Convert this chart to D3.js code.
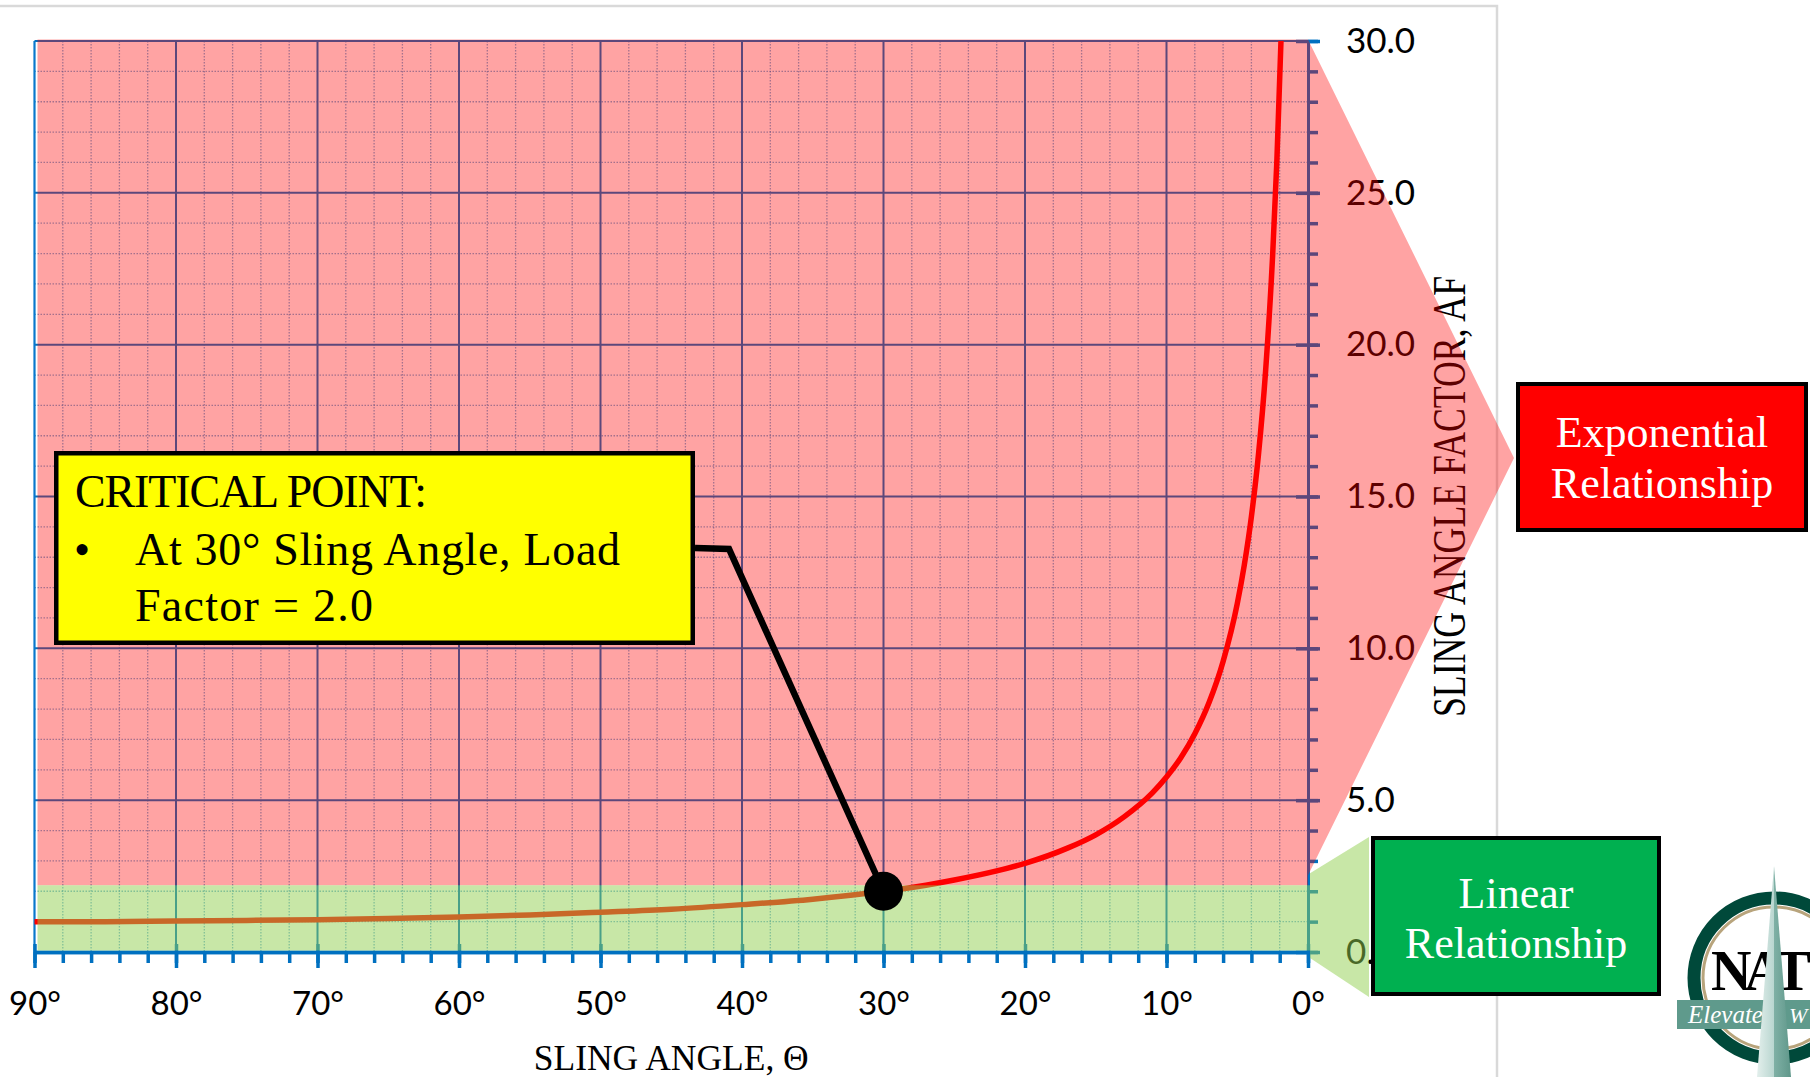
<!DOCTYPE html>
<html>
<head>
<meta charset="utf-8">
<script src="https://cdn.jsdelivr.net/npm/d3@7"></script>
<style>
  html, body { margin: 0; padding: 0; background: #fff; }
  svg { display: block; }
</style>
</head>
<body>
<svg id="chart" width="1810" height="1077"></svg>
<script>
// Sling angle θ (degrees) and the sling angle factor AF
const slingAngles  = [90, 85, 80, 75, 70, 65, 60, 55, 50, 45, 40, 35, 30, 27, 25, 22, 20, 17, 15, 13, 11, 10, 9, 8, 7, 6, 5, 4.5, 4, 3.5, 3, 2.5, 2.2, 1.91];
const angleFactors = [1.00, 1.00, 1.02, 1.04, 1.06, 1.10, 1.15, 1.22, 1.31, 1.41, 1.56, 1.74, 2.00, 2.20, 2.37, 2.67, 2.92, 3.42, 3.86, 4.45, 5.24, 5.76, 6.39, 7.19, 8.21, 9.57, 11.47, 12.75, 14.34, 16.38, 19.11, 22.93, 26.05, 30.0];

// Axis ticks
const xTickValues = [90, 80, 70, 60, 50, 40, 30, 20, 10, 0];
const yTickValues = [0, 5, 10, 15, 20, 25, 30];

// Highlighted point and the upper limit of the linear zone
const criticalAngle = 30;
const criticalFactor = 2.0;
const linearLimit = 2.2;

// Callout texts
const criticalLines = ["CRITICAL POINT:", "At 30° Sling Angle, Load", "Factor = 2.0"];
const expLines = ["Exponential", "Relationship"];
const linLines = ["Linear", "Relationship"];

const W = 1810, H = 1077;
const BLUE = "#0070c0";
const SANS = "Lato, 'Open Sans', sans-serif";
const SERIF = "'Liberation Serif', 'DejaVu Serif', serif";

const svg = d3.select("#chart");
svg.append("rect").attr("width", W).attr("height", H).attr("fill", "#fff");

// slide frame
svg.append("path").attr("d", "M0,6 H1497 V1077")
  .attr("fill", "none").attr("stroke", "#d9d9d9").attr("stroke-width", 2.5);

const x = d3.scaleLinear().domain([90, 0]).range([34.5, 1308]);
const y = d3.scaleLinear().domain([0, 30]).range([952, 41]);

const minorX = d3.range(0, 91, 2);
const minorY = d3.range(0, 31, 1);

// ---------- gridlines ----------
const grid = svg.append("g");
grid.selectAll("line.vmin").data(minorX.filter(d => d % 10 !== 0)).join("line")
  .attr("x1", d => x(d)).attr("x2", d => x(d)).attr("y1", y(30)).attr("y2", y(0))
  .attr("stroke", BLUE).attr("stroke-width", 1.3).attr("stroke-dasharray", "1.5,1.5").attr("opacity", 0.55);
grid.selectAll("line.hmin").data(minorY.filter(d => d % 5 !== 0)).join("line")
  .attr("x1", x(90)).attr("x2", x(0)).attr("y1", d => y(d)).attr("y2", d => y(d))
  .attr("stroke", BLUE).attr("stroke-width", 1.3).attr("stroke-dasharray", "1.5,1.5").attr("opacity", 0.55);
grid.selectAll("line.vmaj").data(xTickValues.filter(d => d > 0 && d < 90)).join("line")
  .attr("x1", d => x(d)).attr("x2", d => x(d)).attr("y1", y(30)).attr("y2", y(0))
  .attr("stroke", BLUE).attr("stroke-width", 2);
grid.selectAll("line.hmaj").data(yTickValues.filter(d => d > 0)).join("line")
  .attr("x1", x(90)).attr("x2", x(0)).attr("y1", d => y(d)).attr("y2", d => y(d))
  .attr("stroke", BLUE).attr("stroke-width", 2);

// ---------- axes ----------
// left edge
svg.append("line").attr("x1", x(90)).attr("x2", x(90)).attr("y1", y(30)).attr("y2", y(0))
  .attr("stroke", "#0a78cc").attr("stroke-width", 2.2);

// bottom axis: minor ticks then labelled major ticks
const gxMinor = svg.append("g").attr("transform", `translate(0,${y(0)})`)
  .call(d3.axisBottom(x).tickValues(minorX).tickSize(11).tickSizeOuter(0).tickFormat(""));
const gx = svg.append("g").attr("transform", `translate(0,${y(0)})`)
  .call(d3.axisBottom(x).tickValues(xTickValues).tickSize(16).tickSizeOuter(0).tickPadding(24)
    .tickFormat(d => d + "°"));
gx.selectAll(".tick line").attr("y1", -8);
[gxMinor, gx].forEach(g => {
  g.select(".domain").attr("stroke", BLUE).attr("stroke-width", 3.5);
  g.selectAll(".tick line").attr("stroke", BLUE).attr("stroke-width", 3.5);
});
gx.selectAll(".tick text").attr("fill", "#000").attr("font-family", SANS).attr("font-size", 33);

// right axis: minor ticks then labelled major ticks
const gyMinor = svg.append("g").attr("transform", `translate(${x(0)},0)`)
  .call(d3.axisRight(y).tickValues(minorY).tickSize(10).tickSizeOuter(0).tickFormat(""));
const gy = svg.append("g").attr("transform", `translate(${x(0)},0)`)
  .call(d3.axisRight(y).tickValues(yTickValues).tickSize(12).tickSizeOuter(0).tickPadding(26)
    .tickFormat(d3.format(".1f")));
gy.selectAll(".tick line").attr("x1", -12);
[gyMinor, gy].forEach(g => {
  g.select(".domain").attr("stroke", BLUE).attr("stroke-width", 3);
  g.selectAll(".tick line").attr("stroke", BLUE).attr("stroke-width", 3.5);
});
gy.selectAll(".tick text").attr("fill", "#000").attr("font-family", SANS).attr("font-size", 35);

// axis titles
svg.append("text").attr("x", (x(90) + x(0)) / 2).attr("y", 1070)
  .attr("text-anchor", "middle").attr("font-family", SERIF).attr("font-size", 36)
  .attr("textLength", 275).attr("lengthAdjust", "spacingAndGlyphs")
  .text("SLING ANGLE, Θ");
svg.append("text").attr("transform", `translate(1465,${(y(0) + y(30)) / 2}) rotate(-90)`)
  .attr("text-anchor", "middle").attr("font-family", SERIF).attr("font-size", 46)
  .attr("textLength", 441).attr("lengthAdjust", "spacingAndGlyphs")
  .text("SLING ANGLE FACTOR, AF");

// ---------- curve ----------
const curveData = d3.zip(slingAngles, angleFactors);
svg.append("path").datum(curveData)
  .attr("d", d3.line().x(d => x(d[0])).y(d => y(d[1])).curve(d3.curveMonotoneX))
  .attr("fill", "none").attr("stroke", "#ff0000").attr("stroke-width", 5.5);

// ---------- zone overlays ----------
const xr = x(0), yTop = y(30), yLin = y(linearLimit);
const expZone = [
  [x(90) + 3, yTop - 1.5], [xr, yTop - 1.5], [xr + 206, 458],
  [xr, yLin - 10], [xr, yLin], [x(90) + 3, yLin]
];
svg.append("polygon").attr("points", expZone.map(p => p.join(",")).join(" "))
  .attr("fill", "#ff0000").attr("fill-opacity", 0.36);

const linZone = [
  [x(90) + 3, yLin], [xr + 2, yLin], [xr + 2, yLin - 12], [1369, 837],
  [1369, 997], [xr + 2, 958], [xr + 2, y(0) - 1.5], [x(90) + 3, y(0) - 1.5]
];
svg.append("polygon").attr("points", linZone.map(p => p.join(",")).join(" "))
  .attr("fill", "#92d050").attr("fill-opacity", 0.5);

// ---------- critical point callout ----------
const cx = x(criticalAngle), cy = y(criticalFactor);
svg.append("polyline").attr("points", [[695, 548], [729, 549], [cx, cy]].map(p => p.join(",")).join(" "))
  .attr("fill", "none").attr("stroke", "#000").attr("stroke-width", 6.5).attr("stroke-linejoin", "miter");
svg.append("circle").attr("cx", cx).attr("cy", cy).attr("r", 19.5).attr("fill", "#000");

const cBox = svg.append("g");
cBox.append("rect").attr("x", 56.25).attr("y", 453.25).attr("width", 636.5).attr("height", 189.5)
  .attr("fill", "#ffff00").attr("stroke", "#000").attr("stroke-width", 4.5);
const cText = cBox.append("g").attr("font-family", SERIF).attr("font-size", 46).attr("fill", "#000")
  .attr("lengthAdjust", "spacingAndGlyphs");
cText.append("text").attr("x", 75).attr("y", 507).attr("textLength", 352).text(criticalLines[0]);
cText.append("text").attr("x", 74).attr("y", 565).text("•");
cText.append("text").attr("x", 135).attr("y", 565).attr("textLength", 485).text(criticalLines[1]);
cText.append("text").attr("x", 135).attr("y", 621).attr("textLength", 238).text(criticalLines[2]);

// ---------- zone labels ----------
function zoneBox(x0, y0, w, h, fill, lines, baselines) {
  const g = svg.append("g");
  g.append("rect").attr("x", x0).attr("y", y0).attr("width", w).attr("height", h)
    .attr("fill", fill).attr("stroke", "#000").attr("stroke-width", 4);
  g.selectAll("text").data(lines).join("text")
    .attr("x", x0 + w / 2).attr("y", (d, i) => baselines[i])
    .attr("text-anchor", "middle").attr("font-family", SERIF).attr("font-size", 44)
    .attr("fill", "#fff").text(d => d);
}
zoneBox(1518, 384, 288, 146, "#ff0000", expLines, [447, 498]);
zoneBox(1373, 838, 286, 156, "#00b050", linLines, [908, 958]);

// ---------- emblem ----------
const defs = svg.append("defs");
const grad = defs.append("linearGradient").attr("id", "spire").attr("x1", 0).attr("x2", 1).attr("y1", 0).attr("y2", 0);
grad.append("stop").attr("offset", "0%").attr("stop-color", "#e3efec");
grad.append("stop").attr("offset", "50%").attr("stop-color", "#b9d6d0");
grad.append("stop").attr("offset", "51%").attr("stop-color", "#7fb0a5");
grad.append("stop").attr("offset", "100%").attr("stop-color", "#5f978a");

const logo = svg.append("g");
logo.append("circle").attr("cx", 1774).attr("cy", 978).attr("r", 80)
  .attr("fill", "#fff").attr("stroke", "#00493a").attr("stroke-width", 13);
logo.append("circle").attr("cx", 1774).attr("cy", 978).attr("r", 71)
  .attr("fill", "none").attr("stroke", "#b8a47c").attr("stroke-width", 3);
logo.append("text").attr("x", 1711).attr("y", 990).attr("font-family", SERIF)
  .attr("font-weight", "bold").attr("font-size", 56).attr("letter-spacing", -7).attr("fill", "#000")
  .text("NAT");
logo.append("rect").attr("x", 1677).attr("y", 1000).attr("width", 140).attr("height", 29)
  .attr("fill", "#5f9a8c");
logo.append("text").attr("x", 1688).attr("y", 1023).attr("font-family", SERIF)
  .attr("font-style", "italic").attr("font-size", 25).attr("fill", "#fff").text("Elevate");
logo.append("text").attr("x", 1789).attr("y", 1023).attr("font-family", SERIF)
  .attr("font-style", "italic").attr("font-size", 22).attr("fill", "#fff").text("W");
logo.append("polygon").attr("points", "1774,866 1757,1077 1791,1077").attr("fill", "url(#spire)");
</script>
</body>
</html>
